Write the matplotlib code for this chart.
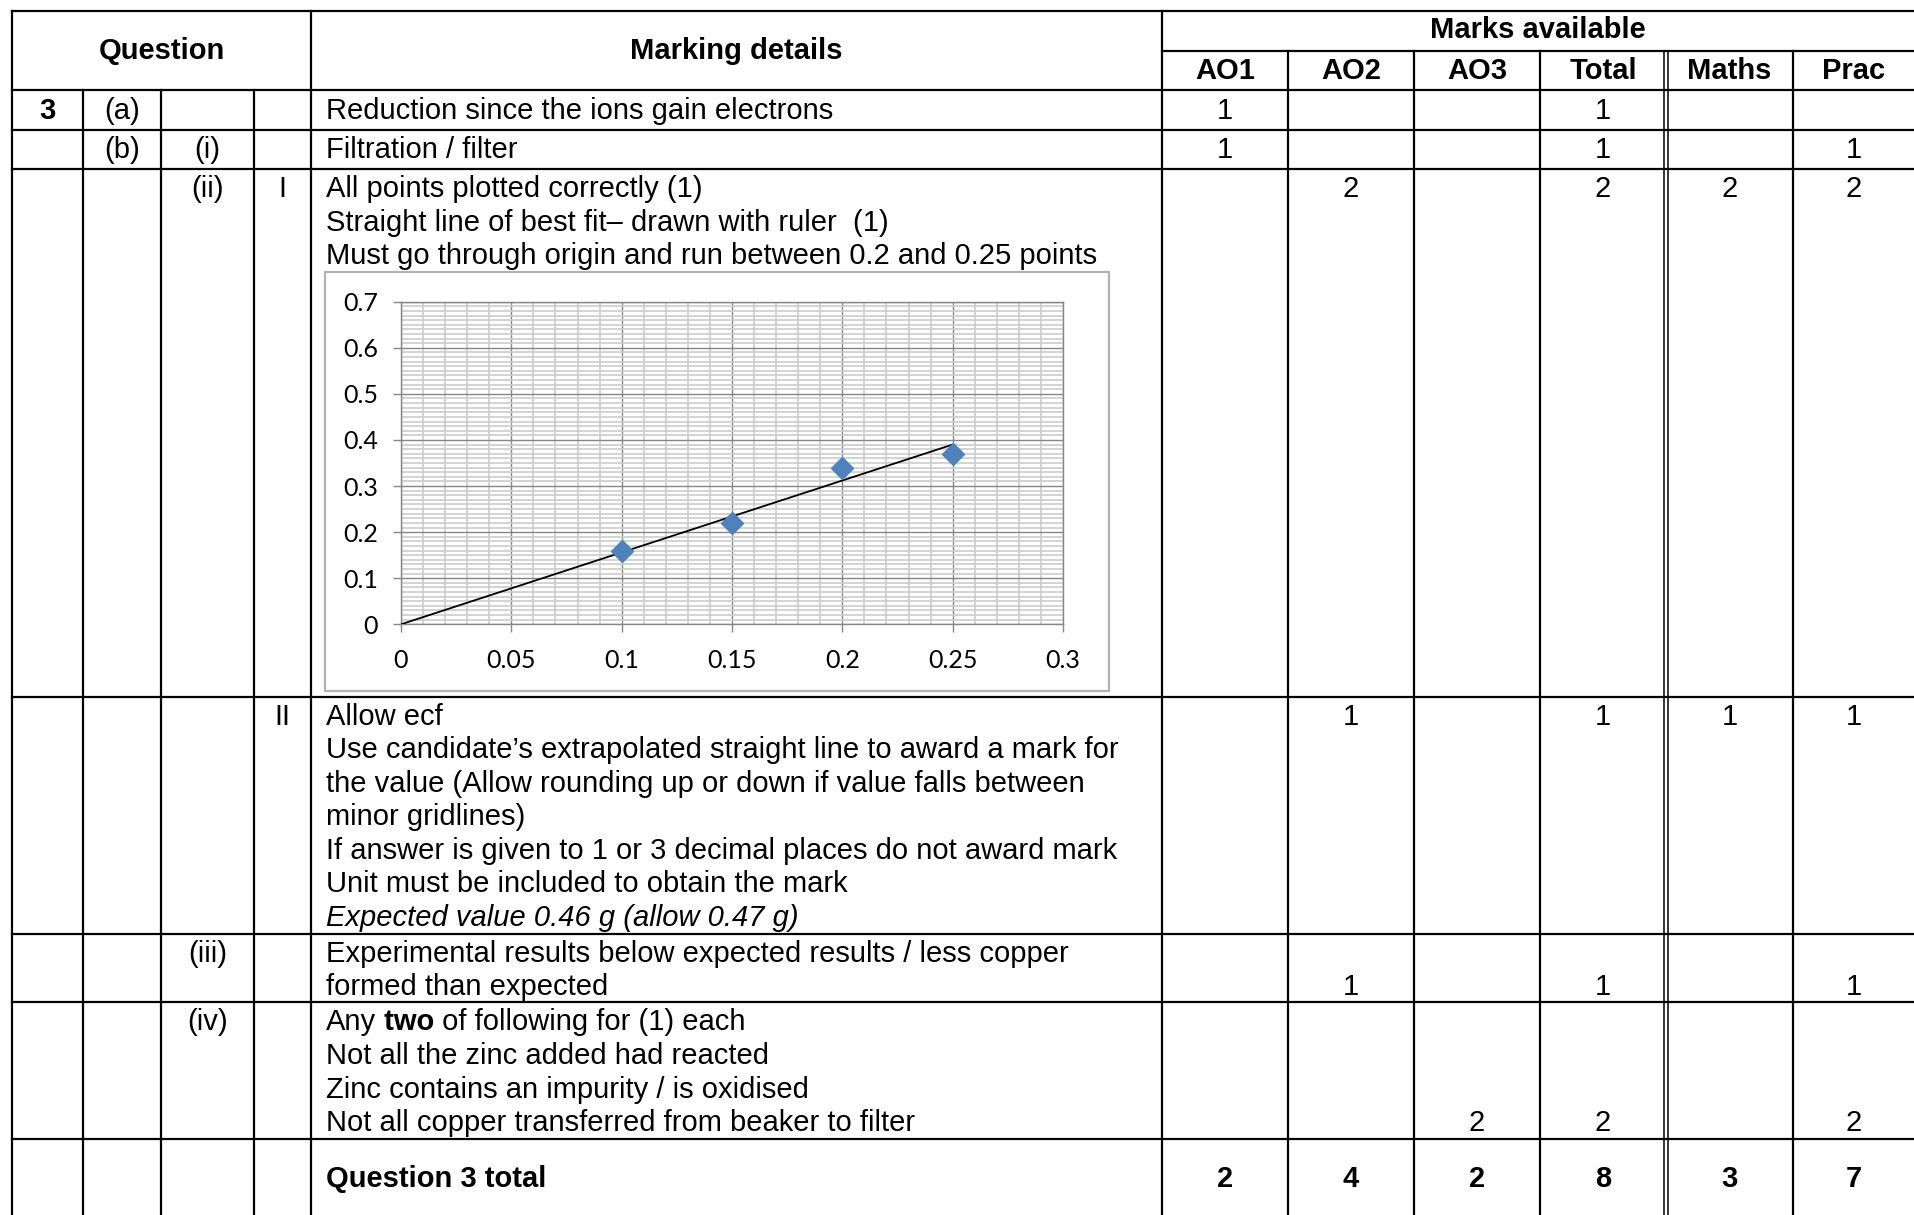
import matplotlib.pyplot as plt
from matplotlib.patches import Rectangle

# ################### DATA ####################
mark_cols = ["AO1", "AO2", "AO3", "Total", "Maths", "Prac"]

q_number = ["3", "", "", "", "", "", ""]
q_part = ["(a)", "(b)", "", "", "", "", ""]
q_sub = ["", "(i)", "(ii)", "", "(iii)", "(iv)", ""]
q_subsub = ["", "", "I", "II", "", "", ""]

details = [
    ["Reduction since the ions gain electrons"],
    ["Filtration / filter"],
    ["All points plotted correctly (1)",
     "Straight line of best fit\u2013 drawn with ruler  (1)",
     "Must go through origin and run between 0.2 and 0.25 points"],
    ["Allow ecf",
     "Use candidate\u2019s extrapolated straight line to award a mark for",
     "the value (Allow rounding up or down if value falls between",
     "minor gridlines)",
     "If answer is given to 1 or 3 decimal places do not award mark",
     "Unit must be included to obtain the mark",
     "Expected value 0.46 g (allow 0.47 g)"],
    ["Experimental results below expected results / less copper",
     "formed than expected"],
    ["Any| two| of following for (1) each",
     "Not all the zinc added had reacted",
     "Zinc contains an impurity / is oxidised",
     "Not all copper transferred from beaker to filter"],
    ["Question 3 total"],
]

marks = [
    ["1", "", "", "1", "", ""],
    ["1", "", "", "1", "", "1"],
    ["", "2", "", "2", "2", "2"],
    ["", "1", "", "1", "1", "1"],
    ["", "1", "", "1", "", "1"],
    ["", "", "2", "2", "", "2"],
    ["2", "4", "2", "8", "3", "7"],
]

# chart data
mass_zinc = [0.1, 0.15, 0.2, 0.25]
mass_copper = [0.16, 0.22, 0.34, 0.37]
fit_x = [0, 0.25]
fit_y = [0, 0.39]
x_ticks = [0, 0.05, 0.1, 0.15, 0.2, 0.25, 0.3]
x_labels = ["0", "0.05", "0.1", "0.15", "0.2", "0.25", "0.3"]
y_ticks = [0, 0.1, 0.2, 0.3, 0.4, 0.5, 0.6, 0.7]
y_labels = ["0", "0.1", "0.2", "0.3", "0.4", "0.5", "0.6", "0.7"]

# ################### LAYOUT ####################
W, H = 1914, 1215
FONT = ["Liberation Sans", "DejaVu Sans"]
FS = 21
LW = 1.6

left, right, top = 12, 1914, 11
q_edges = [12, 83, 161, 254, 311]
det_right = 1162
mark_edges = [1162, 1288, 1414, 1540, 1666, 1793, 1914]
sub_line = 51
head_bottom = 90
row_bottoms = [130, 169, 697, 934, 1002, 1139]

baselines = [
    [119],
    [158],
    [197, 231, 264],
    [725, 758, 792, 825, 859, 892, 926],
    [962, 995],
    [1030, 1064, 1098, 1131],
    [1187],
]
mark_line = [0, 0, 0, 0, 1, 3, 0]

fig = plt.figure(figsize=(W / 100, H / 100), dpi=100)
ax = fig.add_axes([0, 0, 1, 1])
ax.set_xlim(0, W)
ax.set_ylim(H, 0)
ax.axis("off")

# ---- grid lines of the table ----
ax.plot([left, right], [top, top], color="black", lw=LW)
ax.plot([det_right, right], [sub_line, sub_line], color="black", lw=LW)
ax.plot([left, right], [head_bottom, head_bottom], color="black", lw=LW)
for yb in row_bottoms:
    ax.plot([left, right], [yb, yb], color="black", lw=LW)

for xv in [left, q_edges[-1], det_right]:
    ax.plot([xv, xv], [top, H], color="black", lw=LW)
for xv in q_edges[1:-1]:
    ax.plot([xv, xv], [head_bottom, H], color="black", lw=LW)
for xv in mark_edges[1:-1]:
    if xv == 1666:
        ax.plot([xv - 2, xv - 2], [sub_line, H], color="black", lw=1.1)
        ax.plot([xv + 2, xv + 2], [sub_line, H], color="black", lw=1.1)
    else:
        ax.plot([xv, xv], [sub_line, H], color="black", lw=LW)

# ---- header ----
ax.text((q_edges[0] + q_edges[-1]) / 2, 59, "Question", ha="center", va="baseline",
        fontsize=FS, fontweight="bold", family=FONT)
ax.text((q_edges[-1] + det_right) / 2, 59, "Marking details", ha="center", va="baseline",
        fontsize=FS, fontweight="bold", family=FONT)
ax.text((det_right + right) / 2, 38, "Marks available", ha="center", va="baseline",
        fontsize=FS, fontweight="bold", family=FONT)
for i, name in enumerate(mark_cols):
    cx = (mark_edges[i] + mark_edges[i + 1]) / 2
    ax.text(cx, 79, name, ha="center", va="baseline", fontsize=FS,
            fontweight="bold", family=FONT)

# ---- body ----
q_cols = [q_number, q_part, q_sub, q_subsub]
for r in range(len(details)):
    b0 = baselines[r][0]
    for c, col in enumerate(q_cols):
        if col[r]:
            cx = (q_edges[c] + q_edges[c + 1]) / 2
            ax.text(cx, b0, col[r], ha="center", va="baseline", fontsize=FS,
                    fontweight="bold" if c == 0 else "normal", family=FONT)

    last = r == len(details) - 1
    for k, line in enumerate(details[r]):
        yb = baselines[r][k]
        style = "italic" if line.startswith("Expected") else "normal"
        if "|" in line:
            parts = line.split("|")
            t = ax.text(326, yb, parts[0], va="baseline", fontsize=FS, family=FONT)
            for j, p in enumerate(parts[1:]):
                t = ax.annotate(p, xy=(1, yb), xycoords=(t, "data"), va="baseline",
                                fontsize=FS, family=FONT,
                                fontweight="bold" if j == 0 else "normal")
        else:
            ax.text(326, yb, line, va="baseline", fontsize=FS, family=FONT,
                    style=style, fontweight="bold" if last else "normal")

    ym = baselines[r][mark_line[r]]
    for i, m in enumerate(marks[r]):
        if m:
            cx = (mark_edges[i] + mark_edges[i + 1]) / 2
            ax.text(cx, ym, m, ha="center", va="baseline", fontsize=FS,
                    fontweight="bold" if last else "normal", family=FONT)

# ---- chart ----
ax.add_patch(Rectangle((325, 272), 1109 - 325, 691 - 272, fill=False,
                       edgecolor="#b3b3b3", lw=1.6))

px0, px1, py0, py1 = 401, 1063, 624.3, 301.7
ax2 = fig.add_axes([px0 / W, 1 - py0 / H, (px1 - px0) / W, (py0 - py1) / H])
ax2.set_xlim(0, 0.3)
ax2.set_ylim(0, 0.7)
ax2.set_xticks(x_ticks)
ax2.set_xticklabels(x_labels)
ax2.set_yticks(y_ticks)
ax2.set_yticklabels(y_labels)
ax2.set_xticks([i / 100 for i in range(31)], minor=True)
ax2.set_yticks([i / 100 for i in range(71)], minor=True)
ax2.grid(which="minor", color="#cccccc", lw=1.2, zorder=0)
ax2.grid(which="major", color="#868686", lw=1.0, zorder=1)
ax2.set_axisbelow(True)
for s in ax2.spines.values():
    s.set_color("#868686")
    s.set_linewidth(1.0)
ax2.tick_params(which="major", direction="out", length=6, width=1.0, color="#868686",
                labelsize=18, labelcolor="black")
ax2.tick_params(axis="x", which="major", pad=11.5)
ax2.tick_params(axis="y", which="major", pad=10.5)
ax2.tick_params(which="minor", length=0)
for lab in ax2.get_xticklabels() + ax2.get_yticklabels():
    lab.set_family(["Lato", "DejaVu Sans"])

ax2.plot(fit_x, fit_y, color="black", lw=1.3, zorder=3)
ax2.plot(mass_zinc, mass_copper, linestyle="none", marker="D", markersize=11.5,
         color="#4f81bd", zorder=4)

fig.savefig("out.png", dpi=100)
